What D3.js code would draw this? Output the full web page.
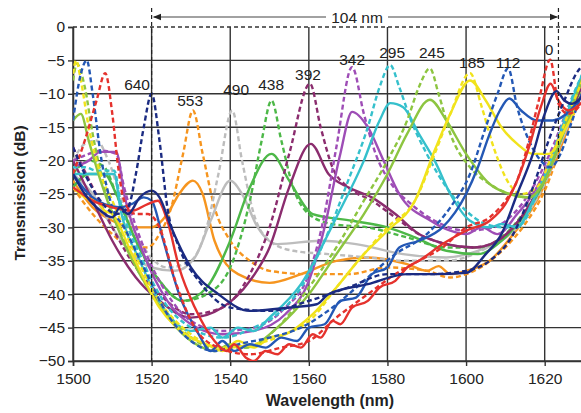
<!DOCTYPE html>
<html><head><meta charset="utf-8">
<script src="https://cdn.jsdelivr.net/npm/d3@7"></script>
<style>
html,body{margin:0;padding:0;background:#fff;}
svg{display:block;font-family:"Liberation Sans",Arial,sans-serif;}
</style></head>
<body><svg id="chart" width="581" height="413"></svg>
<script>
// ---- axis ticks ----
const wavelengthTicks = [1500,1520,1540,1560,1580,1600,1620];
const dbTicks = [0,-5,-10,-15,-20,-25,-30,-35,-40,-45,-50];

// ---- series (wavelength nm, transmission dB) ----
const s640Dashed = [[1500,-18],[1503,-22],[1507,-26],[1511,-28],[1514,-27],[1516,-22],[1518,-15],[1520,-10],[1522,-17],[1524,-27],[1527,-33],[1532,-38],[1540,-42],[1550,-42.5],[1560,-41],[1570,-39],[1580,-37],[1590,-37],[1600,-36.5],[1606,-35],[1612,-31],[1617,-24],[1621,-17],[1625,-11],[1628,-7],[1630,-5.5]];
const s640Solid = [[1500,-22],[1503,-25],[1507,-27.5],[1510,-28.5],[1512,-27],[1514,-28],[1517,-25.5],[1520,-24.5],[1522,-25.5],[1525,-30],[1530,-36],[1537,-40],[1545,-42.5],[1555,-42],[1562,-41.5],[1565,-40],[1575,-38.5],[1585,-37],[1592,-37],[1600,-36.8],[1605,-34],[1609,-31],[1613,-25],[1617,-19],[1620,-13],[1623,-9.6],[1625,-11],[1627,-11.5],[1630,-10]];
const s553Dashed = [[1500,-24],[1505,-28],[1510,-31],[1515,-33],[1519,-33],[1522,-31],[1525,-27],[1528,-19],[1530.5,-12.5],[1533,-19],[1536,-27],[1540,-32],[1545,-35],[1550,-36.5],[1560,-37],[1570,-37],[1580,-36],[1590,-36.5],[1596,-37.5],[1600,-37],[1605,-35.5],[1610,-33],[1615,-29.5],[1620,-24.5],[1625,-16.5],[1630,-9]];
const s553Solid = [[1500,-23],[1505,-27],[1510,-29],[1515,-30],[1520,-30],[1524,-28],[1527,-25],[1530.5,-23],[1533,-25],[1536,-32],[1542,-37],[1550,-38.3],[1558,-37],[1567,-35],[1575,-34.5],[1585,-35.5],[1590,-36.5],[1593,-35.8],[1596,-37],[1600,-36.5],[1606,-35],[1612,-31],[1618,-26],[1624,-18],[1630,-9]];
const s490Dashed = [[1500,-20],[1503,-17.5],[1506,-17],[1509,-20],[1513,-27],[1518,-33],[1524,-36],[1530,-35],[1534,-30],[1537,-22],[1540.5,-12.5],[1543,-20],[1546,-28],[1550,-32],[1556,-33.5],[1565,-34],[1575,-34.5],[1585,-35],[1595,-35],[1602,-34],[1608,-32],[1614,-29],[1620,-23.5],[1625,-16],[1630,-9]];
const s490Solid = [[1500,-22],[1505,-25],[1510,-30],[1515,-34],[1520,-36],[1526,-36.5],[1531,-34.5],[1535,-29],[1540,-23],[1543,-25],[1547,-30],[1552,-32.5],[1563,-32],[1572,-32.5],[1584,-34],[1595,-34.5],[1603,-33.5],[1609,-32],[1615,-28.5],[1620,-23],[1625,-16],[1630,-9]];
const s438Dashed = [[1500,-22],[1504,-20],[1508,-21],[1511,-25],[1516,-32],[1522,-38],[1528,-41],[1534,-40],[1540,-36],[1545,-26],[1548,-17],[1550.5,-11],[1553,-17],[1556,-24],[1560,-28],[1566,-29.5],[1575,-30],[1585,-31.5],[1595,-33],[1603,-33],[1609,-31.5],[1615,-27.5],[1620,-22.5],[1625,-15],[1630,-8]];
const s438Solid = [[1500,-24],[1504,-22],[1508,-22],[1511,-25],[1516,-32],[1522,-38],[1528,-41],[1534,-39],[1540,-32],[1545,-24],[1550.5,-19],[1555,-23],[1561,-28],[1571,-29],[1580,-30],[1587,-31.5],[1595,-33.5],[1603,-34],[1609,-32],[1615,-28],[1620,-23],[1625,-15.5],[1630,-8]];
const s392Dashed = [[1500,-18],[1505,-24],[1510,-30],[1516,-36],[1522,-40],[1530,-43],[1538,-42],[1545,-37],[1550,-30],[1555,-19],[1560.3,-8.5],[1563,-15],[1566,-21],[1570,-24],[1576,-26],[1582,-28.5],[1588,-31],[1595,-32.5],[1602,-33],[1608,-32],[1614,-28.5],[1620,-22.5],[1625,-15],[1630,-8]];
const s392Solid = [[1500,-20],[1505,-26],[1510,-32],[1516,-37.5],[1522,-41],[1530,-43.5],[1538,-42],[1545,-38],[1550,-33],[1555,-24],[1560.5,-17.5],[1565,-22],[1570,-24],[1576,-25.5],[1582,-28],[1588,-31],[1595,-32.5],[1602,-33],[1608,-32],[1614,-28.5],[1620,-22.5],[1625,-15],[1630,-8]];
const s342Dashed = [[1500,-20],[1504,-19],[1507,-18.5],[1511,-19],[1513,-24],[1518,-33],[1524,-40],[1530,-44],[1538,-45.5],[1546,-45],[1554,-42],[1560,-37],[1564,-28],[1567,-18],[1571,-6],[1574,-13],[1577,-19],[1581,-23.5],[1586,-26.5],[1592,-29],[1600,-30.5],[1607,-30],[1612,-28],[1617,-24],[1622,-18],[1626,-12],[1630,-7]];
const s342Solid = [[1500,-21],[1504,-20],[1507,-18.7],[1511,-18.7],[1513,-25],[1518,-34],[1524,-41],[1530,-44.5],[1538,-46],[1546,-45.5],[1554,-43],[1560,-38],[1564,-30],[1568,-19],[1571,-12.7],[1575,-15],[1579,-20],[1583,-25],[1591,-29],[1596,-30.5],[1600,-31],[1604,-30],[1608,-31],[1613,-28],[1617,-25],[1622,-19],[1626,-12.5],[1630,-7]];
const s295Dashed = [[1500,-21],[1503,-21],[1506,-21.5],[1510.5,-21.5],[1512,-26],[1517,-34],[1523,-41],[1530,-45],[1538,-46.5],[1546,-45],[1552,-43],[1558,-39],[1564,-32],[1570,-23],[1575,-15],[1578,-9],[1580.7,-5.7],[1583,-9],[1586,-14],[1590,-19],[1595,-24],[1600,-27.5],[1605,-29.5],[1610,-30],[1614,-29.5],[1618,-25],[1622,-19],[1626,-12],[1630,-6.5]];
const s295Solid = [[1500,-22],[1503,-22],[1506,-22],[1510.5,-22],[1512,-27],[1517,-35],[1523,-42],[1530,-45.5],[1535,-45],[1538,-46.5],[1542,-45],[1546,-45.5],[1550,-43.5],[1558,-38.5],[1567,-28.5],[1574,-20],[1578,-14],[1580.7,-11.4],[1584,-12],[1588,-16],[1592,-20],[1596,-25],[1601,-29],[1606,-30],[1609,-29.5],[1613,-30],[1617,-26],[1622,-19.5],[1626,-12.5],[1630,-6.5]];
const s245Dashed = [[1500,-8],[1501,-5.5],[1503,-9],[1505,-16],[1508,-24],[1513,-32],[1520,-40],[1528,-45.5],[1536,-48],[1544,-48],[1552,-45],[1560,-39],[1567,-33],[1574,-26],[1580,-20],[1585,-14],[1588,-9],[1590.8,-6.2],[1593,-10],[1596,-16],[1601,-21],[1606,-23.5],[1611,-25],[1616,-25.5],[1620,-23],[1624,-17],[1627,-12],[1630,-7]];
const s245Solid = [[1500,-14],[1502,-13],[1504,-17],[1507,-23],[1512,-31],[1520,-40],[1528,-46],[1533,-48],[1536,-48.5],[1540,-47.5],[1544,-48],[1552,-45],[1560,-40],[1567,-34],[1574,-28],[1580,-22],[1585,-16],[1590.8,-10.9],[1595,-14],[1600,-19],[1606,-23.5],[1611,-25],[1616,-25.5],[1620,-23],[1624,-17],[1627,-12],[1630,-7]];
const s185Dashed = [[1500,-7],[1500.8,-5],[1502,-8],[1504,-15],[1507,-22],[1510,-26],[1515,-33],[1522,-41],[1530,-46],[1538,-48],[1546,-47.5],[1554,-46],[1561,-43.5],[1567,-39],[1574,-34],[1580,-30],[1587,-26],[1592,-19],[1596,-13],[1601,-6.9],[1604,-12],[1607,-18],[1611,-23.5],[1614,-25],[1618,-24],[1622,-19],[1626,-13],[1630,-7.5]];
const s185Solid = [[1500,-24],[1503,-25.5],[1506,-26],[1508,-27.5],[1510,-28],[1515,-34],[1522,-42],[1530,-46.5],[1534,-47.5],[1538,-48.5],[1542,-47],[1546,-48],[1550,-46.5],[1554,-46],[1561,-43],[1567,-39],[1574,-34],[1580,-30.5],[1587,-26],[1592,-18.5],[1596,-13],[1601,-8],[1605,-11],[1609,-15],[1613,-17.5],[1617,-19],[1621,-19],[1625,-15.5],[1628,-12],[1630,-9]];
const s112Dashed = [[1500,-14],[1502,-7],[1503.5,-5],[1505,-10],[1507,-19],[1510,-27],[1513,-30],[1518,-36],[1524,-43],[1530,-47],[1536,-48.5],[1542,-47.5],[1550,-46.5],[1558,-45],[1566,-42],[1574,-38],[1582,-34],[1590,-31],[1596,-27],[1601,-22],[1605,-15],[1608,-10],[1610.7,-6.2],[1613,-12],[1616,-17],[1619,-20],[1621.5,-21],[1624,-19],[1627,-14],[1630,-9]];
const s112Solid = [[1500,-22],[1504,-25],[1508,-26.5],[1512,-27],[1515,-26.5],[1518,-25.5],[1520,-26],[1523,-32],[1527,-40],[1532,-46],[1535,-48.5],[1538,-47],[1541,-48.5],[1545,-47.5],[1549,-48],[1553,-46.5],[1557,-47],[1560,-45],[1564,-44.5],[1568,-41],[1572,-40.5],[1576,-37],[1580,-36],[1583,-33],[1588,-32],[1594,-30],[1600,-25],[1603,-21],[1606,-16],[1608.6,-12.5],[1611,-10.7],[1614,-12.5],[1618,-14],[1622,-14],[1626.5,-12.5],[1630,-10]];
const s0Dashed = [[1500,-22],[1503,-17],[1506,-11],[1508.2,-6.9],[1510,-13],[1511.5,-21],[1513,-26],[1516,-28],[1519,-28],[1522,-30],[1526,-38],[1531,-45],[1537,-48],[1545,-49],[1553,-48],[1560,-47],[1567,-43.5],[1575,-40],[1582,-37],[1588,-35],[1594,-33],[1600,-30],[1606,-28.5],[1610,-26],[1613,-23],[1616,-17],[1618.5,-11],[1621.4,-4.9],[1623.5,-11.5],[1626,-13],[1630,-11]];
const s0Solid = [[1500,-24],[1505,-26],[1510,-27],[1515,-27.5],[1519,-26.5],[1521.6,-26],[1524,-29],[1527,-36],[1531,-42],[1536,-47],[1539,-48.5],[1541,-47.5],[1544,-49.5],[1546,-50],[1549,-48.5],[1552,-49],[1555,-47.5],[1558,-48],[1561,-46],[1563,-46.5],[1566,-44],[1568,-44.5],[1571,-42],[1575,-41],[1578,-39],[1582,-38],[1585,-36],[1588,-35],[1594,-32.5],[1600,-30.5],[1606,-29],[1610,-26.5],[1613,-23],[1616,-18],[1619,-12],[1621.5,-8.5],[1623.5,-11],[1626,-12.5],[1630,-11]];

// ---- peak annotations ----
const peakLabels = ["640","553","490","438","392","342","295","245","185","112","0"];
const peakLabelWl = [1516.3,1529.8,1541.5,1550.4,1559.8,1571,1581.2,1591.3,1601.5,1610.7,1621.1];
const peakLabelDb = [-9.4,-11.8,-10.2,-9.4,-7.9,-5.7,-4.6,-4.6,-6.1,-6.1,-4.2];
const spanLabel = "104 nm";
const spanWl = [1520,1623.5];

const curves = [
  {d:s553Dashed,c:"#f6951f",dash:true},{d:s553Solid,c:"#f6951f"},
  {d:s490Dashed,c:"#bdbdbd",dash:true},{d:s490Solid,c:"#bdbdbd"},
  {d:s438Dashed,c:"#4db848",dash:true},{d:s438Solid,c:"#4db848"},
  {d:s392Dashed,c:"#8b2c6e",dash:true},{d:s392Solid,c:"#8b2c6e"},
  {d:s342Dashed,c:"#9e4db6",dash:true},{d:s342Solid,c:"#9e4db6"},
  {d:s295Dashed,c:"#35c0cc",dash:true},{d:s295Solid,c:"#35c0cc"},
  {d:s245Dashed,c:"#8dc540",dash:true},{d:s245Solid,c:"#8dc540"},
  {d:s185Dashed,c:"#f1e31c",dash:true},{d:s185Solid,c:"#f1e31c"},
  {d:s112Dashed,c:"#2458b5",dash:true},{d:s112Solid,c:"#2458b5"},
  {d:s0Dashed,c:"#e5322d",dash:true},{d:s0Solid,c:"#e5322d"},
  {d:s640Dashed,c:"#1b2b82",dash:true},{d:s640Solid,c:"#1b2b82"}
];

const svg = d3.select("#chart");
const x = d3.scaleLinear().domain([1500,1630]).range([73,584]);
const y = d3.scaleLinear().domain([-50,0]).range([361,27]);
const FONT = "Liberation Sans, Arial, sans-serif";

// grid
const grid = svg.append("g");
wavelengthTicks.forEach(t=>{
  grid.append("line").attr("x1",x(t)).attr("x2",x(t)).attr("y1",y(0)).attr("y2",y(-50))
    .attr("stroke","#333").attr("stroke-width",1.4);
});
dbTicks.forEach(t=>{
  grid.append("line").attr("x1",x(1500)).attr("x2",581).attr("y1",y(t)).attr("y2",y(t))
    .attr("stroke","#333").attr("stroke-width",1.4)
    .attr("stroke-dasharray", t===0 ? "4,3" : null);
});

// axes
const xAxis = svg.append("g").attr("transform",`translate(0,${y(-50)})`)
  .call(d3.axisBottom(x).tickValues(wavelengthTicks).tickSize(5).tickPadding(7).tickFormat(d3.format("d")));
const yAxis = svg.append("g").attr("transform",`translate(${x(1500)},0)`)
  .call(d3.axisLeft(y).tickValues(dbTicks).tickSize(5).tickPadding(3).tickFormat(d=> d===0?"0":"\u2212"+Math.abs(d)));
[xAxis,yAxis].forEach(a=>{
  a.select(".domain").attr("stroke","#333").attr("stroke-width",1.5);
  a.selectAll(".tick line").attr("stroke","#333").attr("stroke-width",1.4);
  a.selectAll("text").attr("font-size",15.5).attr("fill","#222").attr("font-family",FONT);
});

// clip
svg.append("clipPath").attr("id","plotclip").append("rect")
  .attr("x",x(1500)).attr("y",y(0)-2).attr("width",581-x(1500)).attr("height",y(-50)-y(0)+2);

const line = d3.line().x(d=>x(d[0])).y(d=>y(d[1])).curve(d3.curveMonotoneX);
const cg = svg.append("g").attr("clip-path","url(#plotclip)");
curves.forEach(s=>{
  cg.append("path").attr("d",line(s.d)).attr("fill","none").attr("stroke",s.c)
    .attr("stroke-width",2.4).attr("stroke-linejoin","round")
    .attr("stroke-dasharray", s.dash ? "5,3" : null);
});

// vertical dashed markers and span arrow
svg.append("line").attr("x1",x(spanWl[0])).attr("x2",x(spanWl[0])).attr("y1",8).attr("y2",y(-50))
  .attr("stroke","#222").attr("stroke-width",1.2).attr("stroke-dasharray","4,3");
svg.append("line").attr("x1",x(spanWl[1])).attr("x2",x(spanWl[1])).attr("y1",8).attr("y2",y(-20))
  .attr("stroke","#222").attr("stroke-width",1.2).attr("stroke-dasharray","4,3");
const defs = svg.append("defs");
defs.append("marker").attr("id","arr").attr("viewBox","0 0 10 10").attr("refX",9).attr("refY",5)
  .attr("markerWidth",7).attr("markerHeight",7).attr("orient","auto-start-reverse")
  .append("path").attr("d","M0,1 L10,5 L0,9 Z").attr("fill","#222");
const ay = 17;
svg.append("line").attr("x1",x(spanWl[0])+2).attr("x2",326).attr("y1",ay).attr("y2",ay)
  .attr("stroke","#444").attr("stroke-width",1.2).attr("marker-start","url(#arr)");
svg.append("line").attr("x1",388).attr("x2",x(spanWl[1])-1).attr("y1",ay).attr("y2",ay)
  .attr("stroke","#444").attr("stroke-width",1.2).attr("marker-end","url(#arr)");
svg.append("text").attr("x",357).attr("y",22.5).attr("text-anchor","middle")
  .attr("font-size",15.5).attr("fill","#222").attr("font-family",FONT).text(spanLabel);

// peak labels
peakLabels.forEach((t,i)=>{
  svg.append("text").attr("x",x(peakLabelWl[i])).attr("y",y(peakLabelDb[i]))
    .attr("text-anchor","middle").attr("font-size",15.5).attr("fill","#222").attr("font-family",FONT).text(t);
});

// axis titles
svg.append("text").attr("x",330).attr("y",406).attr("text-anchor","middle")
  .attr("font-size",16).attr("font-weight","bold").attr("fill","#222").attr("font-family",FONT).text("Wavelength (nm)");
svg.append("text").attr("transform","translate(25,193) rotate(-90)").attr("text-anchor","middle")
  .attr("font-size",15.5).attr("font-weight","bold").attr("fill","#222").attr("font-family",FONT).text("Transmission (dB)");
</script></body></html>
